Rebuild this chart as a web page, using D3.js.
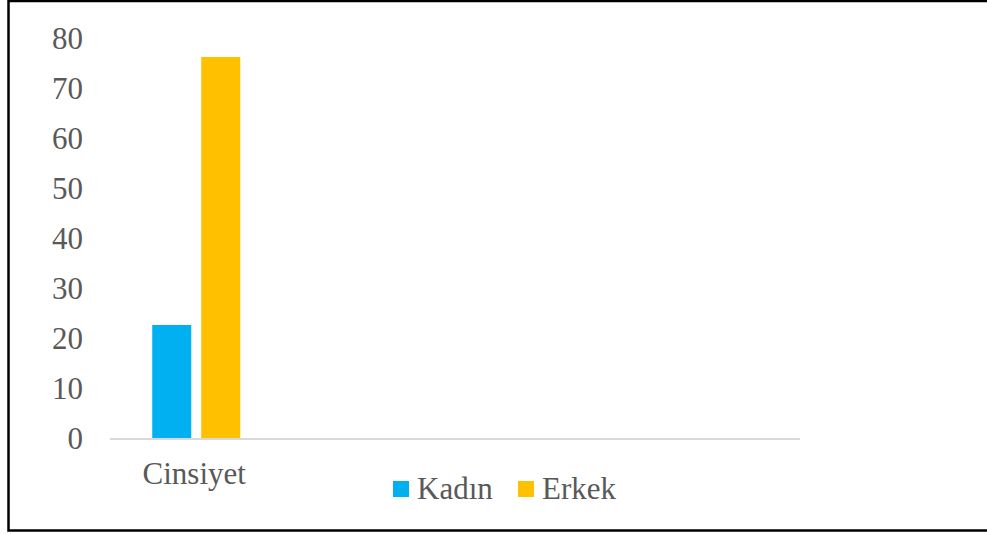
<!DOCTYPE html>
<html>
<head>
<meta charset="utf-8">
<script src="https://cdn.jsdelivr.net/npm/d3@7"></script>
<style>
  body { margin: 0; background: #fff; }
  text { font-family: "Liberation Serif", "Times New Roman", serif; fill: #595959; }
</style>
</head>
<body>
<svg id="chart" width="987" height="534"></svg>
<script>
// data
var categories = ["Cinsiyet", "", "", ""];
var series = ["Kadın", "Erkek"];
var kadin = [22.7];
var erkek = [76.3];
var yTicks = [0, 10, 20, 30, 40, 50, 60, 70, 80];
var colors = ["#00b0f0", "#ffc000"];

var svg = d3.select("#chart");

// outer frame
svg.append("rect")
	.attr("x", 8.5).attr("y", 1)
	.attr("width", 1000).attr("height", 529.5)
	.attr("fill", "none")
	.attr("stroke", "#000")
	.attr("stroke-width", 2.5);

var margin = {left: 110, right: 187, top: 38.5, bottom: 95.5};
var width = 987 - margin.left - margin.right,
	height = 534 - margin.top - margin.bottom;

var g = svg.append("g")
	.attr("transform", "translate(" + margin.left + "," + margin.top + ")");

var x = d3.scaleBand().domain(d3.range(categories.length)).range([0, width]);
var y = d3.scaleLinear().domain([0, 80]).range([height, 0]);

var barW = 39, gap = 10;
var x1 = d3.scaleOrdinal().domain(series).range([-(barW + gap / 2), gap / 2]);

// y labels (no axis line)
g.selectAll(".ylab")
	.data(yTicks)
	.enter().append("text")
	.attr("class", "ylab")
	.attr("x", -27)
	.attr("y", function(d) { return y(d); })
	.attr("dy", "0.34em")
	.attr("text-anchor", "end")
	.style("font-size", "31px")
	.text(function(d) { return d; });

// bars
var values = {"Kadın": kadin, "Erkek": erkek};
series.forEach(function(s, si) {
	g.selectAll(".bar" + si)
		.data(values[s])
		.enter().append("rect")
		.attr("x", function(d, i) { return x(i) + x.bandwidth() / 2 + x1(s); })
		.attr("y", function(d) { return y(d); })
		.attr("width", barW)
		.attr("height", function(d) { return y(0) - y(d); })
		.attr("fill", colors[si]);
});

// category axis
g.append("line")
	.attr("x1", 0).attr("x2", width)
	.attr("y1", y(0) + 0.5).attr("y2", y(0) + 0.5)
	.attr("stroke", "#d9d9d9")
	.attr("stroke-width", 2);

g.selectAll(".xlab")
	.data(categories)
	.enter().append("text")
	.attr("x", function(d, i) { return x(i) + x.bandwidth() / 2 - 2; })
	.attr("y", 484)
	.attr("text-anchor", "middle")
	.style("font-size", "31px")
	.attr("transform", "translate(0," + (-margin.top) + ")")
	.text(function(d) { return d; });

// legend
var legendX = [393, 518];
var legend = svg.selectAll(".legend")
	.data(series)
	.enter().append("g")
	.attr("transform", function(d, i) { return "translate(" + legendX[i] + ",481)"; });

legend.append("rect")
	.attr("width", 16).attr("height", 16)
	.attr("fill", function(d, i) { return colors[i]; });

legend.append("text")
	.attr("x", 24)
	.attr("y", 18)
	.style("font-size", "31px")
	.text(function(d) { return d; });
</script>
</body>
</html>
